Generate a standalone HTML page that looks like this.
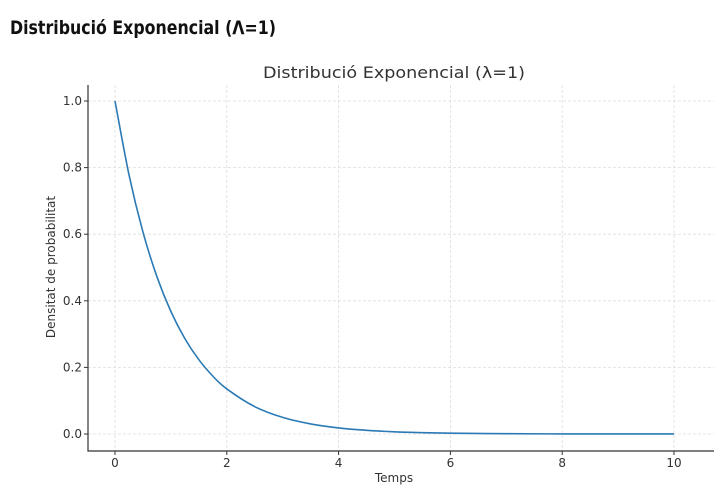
<!DOCTYPE html>
<html><head><meta charset="utf-8"><style>
body{margin:0;background:#fff;width:714px;height:491px;overflow:hidden;font-family:"DejaVu Sans","Liberation Sans",sans-serif}
</style></head><body>
<svg id="c" width="714" height="491" style="position:absolute;left:0;top:0">
<text x="10" y="34" font-size="19" font-weight="bold" fill="#111" textLength="266" lengthAdjust="spacingAndGlyphs">Distribució Exponencial (Λ=1)</text>
</svg>
<script>
const xs=[0,0.25,0.5,0.75,1,1.25,1.5,1.75,2,2.5,3,3.5,4,4.5,5,5.5,6,7,8,9,10];
const ys=[1,0.7788,0.6065,0.4724,0.3679,0.2865,0.2231,0.1738,0.1353,0.0821,0.0498,0.0302,0.0183,0.0111,0.0067,0.0041,0.0025,0.0009,0.0003,0.0001,0.00005];
const xTicks=[0,2,4,6,8,10];
const yTicks=[0,0.2,0.4,0.6,0.8,1.0];
const svg=document.getElementById('c');
const NS='http://www.w3.org/2000/svg';
const X=v=>115+v*55.9, Y=v=>434-v*333;
function mk(t,a){const e=document.createElementNS(NS,t);for(const k in a)e.setAttribute(k,a[k]);svg.appendChild(e);return e;}
xTicks.forEach(t=>{
 const g=mk('line',{x1:X(t),x2:X(t),y1:85,y2:451,stroke:'#ddd','stroke-dasharray':'3,2','stroke-width':0.8});
 
 
 const tk=mk('line',{x1:X(t),x2:X(t),y1:451,y2:455,stroke:'#333'});
 
 
 const l=mk('text',{x:X(t),y:467,'text-anchor':'middle','font-size':12,fill:'#333'});l.textContent=t;
 
 
});
yTicks.forEach(t=>{
 const g=mk('line',{x1:88,x2:714,y1:Y(t),y2:Y(t),stroke:'#ddd','stroke-dasharray':'3,2','stroke-width':0.8});
 
 
 const tk=mk('line',{x1:84,x2:88,y1:Y(t),y2:Y(t),stroke:'#333'});
 
 
 const l=mk('text',{x:82,y:Y(t)+4,'text-anchor':'end','font-size':12,fill:'#333'});l.textContent=t.toFixed(1);
 
 
});
const ax=mk('path',{d:'M88 85V451H714',fill:'none',stroke:'#333','stroke-width':1.2});


let p=xs.map((x,i)=>[X(x),Y(ys[i])]);let d='M'+p[0][0]+' '+p[0][1];
for(let i=0;i<p.length-1;i++){const p0=p[Math.max(0,i-1)],p1=p[i],p2=p[i+1],p3=p[Math.min(p.length-1,i+2)];
d+=` C${p1[0]+(p2[0]-p0[0])/6} ${p1[1]+(p2[1]-p0[1])/6} ${p2[0]-(p3[0]-p1[0])/6} ${p2[1]-(p3[1]-p1[1])/6} ${p2[0]} ${p2[1]}`;}
const ln=mk('path',{d:d,fill:'none',stroke:'#2a7ab5','stroke-width':1.6});


const tt=mk('text',{x:394,y:78,'text-anchor':'middle','font-size':16,fill:'#333',textLength:262,lengthAdjust:'spacingAndGlyphs'});tt.textContent='Distribució Exponencial (λ=1)';


const xt=mk('text',{x:394,y:482,'text-anchor':'middle','font-size':12,fill:'#333'});xt.textContent='Temps';


const yt=mk('text',{x:0,y:0,'text-anchor':'middle','font-size':12,fill:'#333',transform:'translate(55,267) rotate(-90)'});yt.textContent='Densitat de probabilitat';


</script>
</body></html>
